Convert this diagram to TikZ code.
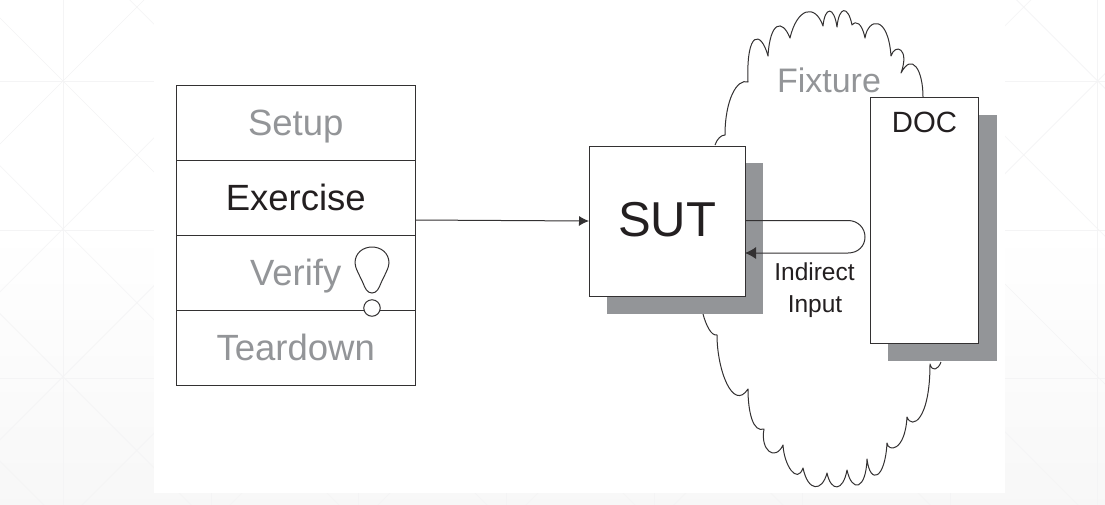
\documentclass[tikz,border=0pt]{standalone}
\usepackage{fontspec}
\setmainfont{Liberation Sans}
\usetikzlibrary{arrows.meta}
\definecolor{inkk}{HTML}{333132}
\definecolor{labelink}{HTML}{231F20}
\definecolor{greyy}{HTML}{939598}
\definecolor{gridl}{HTML}{F4F4F5}
\tikzset{
  rowbox/.style={draw=inkk,line width=1pt,fill=white,minimum width=239.5pt,minimum height=75pt,inner sep=0pt,outer sep=0pt,text height=24pt,text depth=0pt,font=\fontsize{36.5}{40}\selectfont},
  mutedtext/.style={text=greyy},
  darktext/.style={text=labelink},
  boxx/.style={draw=inkk,line width=1pt,fill=white,inner sep=0pt,outer sep=0pt,text=labelink},
  shadowbox/.style={fill=greyy,draw=none,inner sep=0pt,outer sep=0pt},
  wire/.style={draw=inkk,line width=1pt},
  arrowed/.style={wire,-{Latex[length=10pt,width=10pt]}},
  arrowedbig/.style={wire,-{Latex[length=11pt,width=12pt]}},
  cloudline/.style={draw=inkk,line width=1pt,line join=round},
  plain/.style={inner sep=0pt,outer sep=0pt,anchor=base,text=labelink,font=\fontsize{24.5}{30}\selectfont,align=center}
}
\begin{document}
\begin{tikzpicture}[x=1pt,y=-1pt]
\useasboundingbox (0,0) rectangle (1105,504);
\begin{scope}
\clip (0,0) rectangle (1105,504);
\fill[white] (0,0) rectangle (1105,230);
\shade[top color=white,bottom color=black!3] (0,230) rectangle (1105,504);
\begin{scope}[draw=gridl,line width=0.6pt]
\foreach \k in {0,...,7}{
  \draw ({63+147.8*\k},-10) -- ({63+147.8*\k},514);
}
\foreach \j in {81,230,378}{
  \draw (0,\j) -- (1105,\j);
}
\foreach \k in {-4,...,7}{
  \draw ({63+147.8*\k-81-30},-30) -- ({63+147.8*\k+560},{-30+671});
  \draw ({63+147.8*\k+81+30},-30) -- ({63+147.8*\k-560},{-30+671});
}
\end{scope}
\fill[white] (154,-1) rectangle (1005,493);
\end{scope}

% cloud
\draw[cloudline,fill=white] (715,145)
 .. controls (717,139) and (721,135) .. (725,135)
 .. controls (725,100) and (737,78) .. (748,82)
 .. controls (746,30) and (761,30) .. (768,56)
 .. controls (770,22) and (782,18) .. (790,38)
 .. controls (797,8) and (815,3) .. (823,26)
 .. controls (825,6) and (834,6) .. (837,27)
 .. controls (839,6) and (848,5) .. (852,25)
 .. controls (856,20) and (862,23) .. (865,38)
 .. controls (868,18) and (888,14) .. (891,56)
 .. controls (895,43) and (910,48) .. (901,73)
 .. controls (912,52) and (923,70) .. (923,97);
\draw[cloudline] (703,314)
 .. controls (706,325) and (711,336) .. (717,335)
 .. controls (717,370) and (733,412) .. (748,389)
 .. controls (748,412) and (753,433) .. (764,429)
 .. controls (760,450) and (775,462) .. (783,445)
 .. controls (784,465) and (797,485) .. (803,468)
 .. controls (808,492) and (822,492) .. (827,473)
 .. controls (831,492) and (843,492) .. (847,470)
 .. controls (852,493) and (866,490) .. (867,459)
 .. controls (870,485) and (885,480) .. (887,443)
 .. controls (888,452) and (905,452) .. (907,417)
 .. controls (912,430) and (930,420) .. (930,364)
 .. controls (932,372) and (938,370) .. (941,362);

\node[plain,font=\fontsize{34}{40}\selectfont,text=greyy] (fixture) at (829,92.5) {Fixture};

% phases
\node[rowbox,mutedtext] (setup) at (295.75,123) {Setup};
\node[rowbox,darktext] (exercise) at (295.75,198) {Exercise};
\node[rowbox,mutedtext] (teardown) at (295.75,348) {Teardown};
\node[rowbox,mutedtext,text width=239.5pt,align=left] (verify) at (295.75,273) {\hspace{74pt}Verify};

% bulb
\draw[wire,fill=white] (372,293)
 .. controls (367,293) and (365,288) .. (363,283)
 .. controls (360,276) and (355,268) .. (355,263)
 .. controls (355,253) and (363,247) .. (372,247)
 .. controls (381,247) and (389,253) .. (389,263)
 .. controls (389,268) and (384,276) .. (381,283)
 .. controls (379,288) and (377,293) .. (372,293) -- cycle;
\node[circle,draw=inkk,line width=1pt,fill=white,minimum size=16.5pt,inner sep=0pt,outer sep=0pt] (knob) at (372,308) {};

% shadows and boxes
\node[shadowbox,minimum width=156pt,minimum height=151pt] (sutshadow) at (685,238.5) {};
\node[shadowbox,minimum width=109pt,minimum height=246pt] (docshadow) at (942.5,238) {};
\node[boxx,minimum width=156pt,minimum height=150pt,text height=30pt,text depth=0pt,font=\fontsize{49}{55}\selectfont] (sut) at (667,221) {SUT};
\node[boxx,minimum width=108pt,minimum height=246pt] (doc) at (924.5,220.5) {};
\node[plain,font=\fontsize{29.3}{34}\selectfont] (doclabel) at (924.5,132.5) {DOC};

% connectors
\coordinate (exout) at (415.5,220);
\coordinate (sutout) at (745,220.5);
\coordinate (sutin) at (745,253);
\draw[arrowed] (exout) -- (sut.west);
\draw[arrowedbig] (sutout) -- (848,220.5) .. controls (858,220.5) and (865,228) .. (865,237) .. controls (865,246) and (858,253) .. (848,253) -- (sutin);

\node[plain] (indirect) at (814.5,280.5) {Indirect};
\node[plain] (input) at (815,312) {Input};
\end{tikzpicture}
\end{document}
